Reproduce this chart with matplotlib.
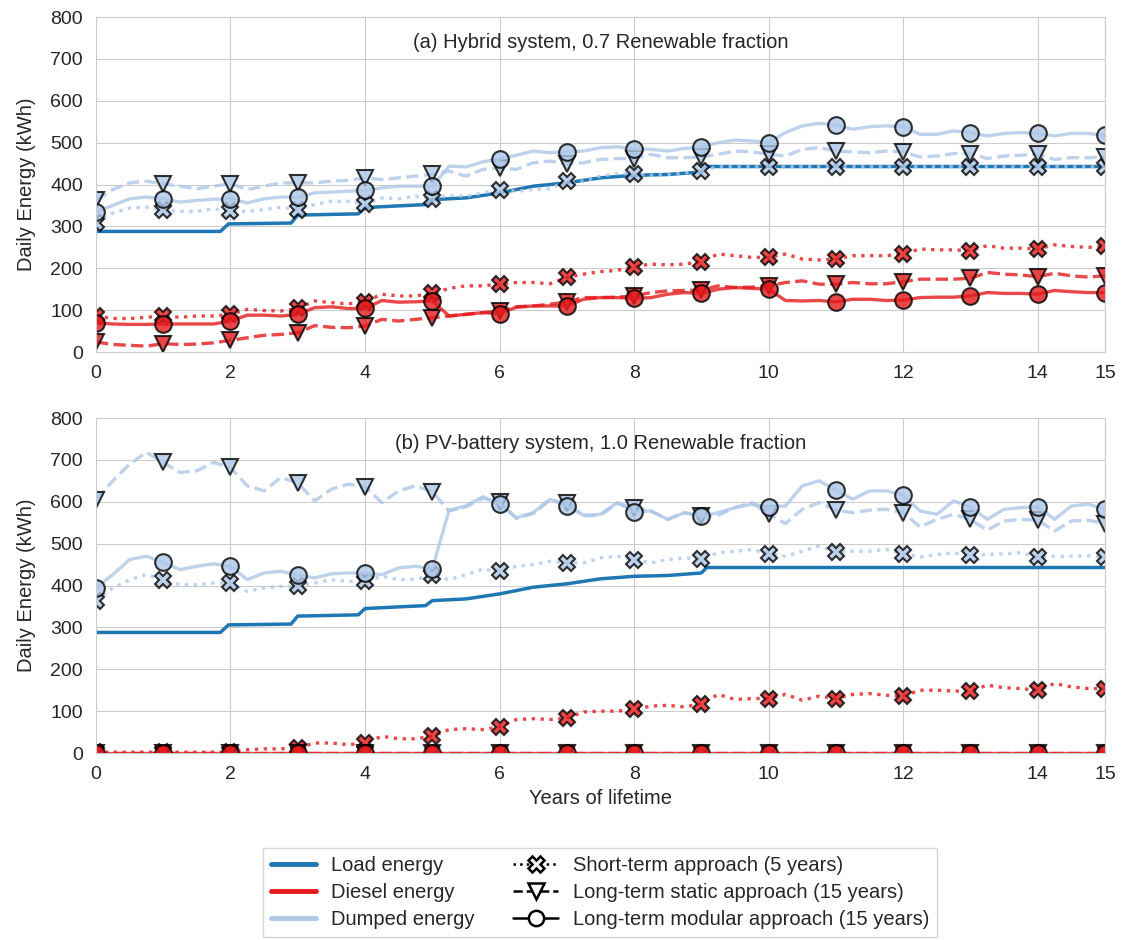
import numpy as np
import matplotlib.pyplot as plt
import seaborn as sns
from matplotlib.lines import Line2D

sns.set_style("whitegrid")
plt.rcParams["font.family"] = ["Liberation Sans", "DejaVu Sans"]
plt.rcParams["font.size"] = 14

# --- dati: energia giornaliera (kWh), letta ogni 0.25 anni ---
years = np.arange(0, 15.01, 0.25)

# carico (uguale nei due casi), con i gradini
load_years = [0, 1.85, 1.97, 2.9, 3.0, 3.9, 4.0, 4.5, 4.9, 5.0, 5.5, 6.0,
              6.5, 7.0, 7.5, 8.0, 8.5, 9.0, 9.08, 15]
load_kwh = [288, 288, 306, 308, 327, 330, 345, 349, 352, 364, 368, 380,
            396, 404, 416, 422, 424, 430, 443, 443]

# (a) sistema ibrido
dump_short_a = [308, 332, 344, 346, 338, 336, 336, 342, 336, 336, 340, 346,
                340, 352, 360, 360, 353, 368, 366, 372, 366, 374, 372, 380,
                388, 384, 388, 390, 408, 408, 420, 426, 426, 422, 424, 428,
                432, 443, 443, 443, 443, 443, 443, 443, 443, 443, 443, 443,
                443, 443, 443, 443, 443, 443, 443, 443, 443, 443, 443, 443, 443]
dump_static_a = [362, 388, 404, 408, 402, 396, 390, 396, 402, 388, 396, 404,
                 404, 404, 408, 410, 416, 412, 416, 420, 424, 432, 420, 436,
                 440, 436, 452, 456, 450, 452, 460, 462, 462, 472, 464, 464,
                 466, 472, 480, 478, 472, 468, 484, 488, 480, 478, 476, 480,
                 478, 466, 468, 474, 474, 462, 468, 470, 472, 460, 464, 464, 466]
dump_mod_a = [335, 350, 366, 370, 366, 358, 362, 365, 366, 356, 366, 370,
              370, 380, 382, 384, 386, 392, 396, 396, 396, 444, 442, 454,
              461, 470, 480, 476, 478, 480, 488, 490, 486, 484, 480, 486,
              490, 500, 506, 504, 500, 524, 540, 546, 542, 532, 538, 540,
              538, 520, 520, 528, 524, 516, 522, 524, 522, 516, 522, 522, 518]
diesel_short_a = [86, 80, 80, 83, 86, 83, 86, 86, 90, 102, 99, 98,
                  104, 122, 118, 115, 120, 138, 134, 134, 140, 152, 158, 158,
                  162, 166, 166, 163, 178, 186, 192, 195, 204, 210, 208, 210,
                  216, 234, 230, 226, 226, 234, 222, 220, 222, 230, 230, 230,
                  234, 246, 244, 244, 242, 254, 248, 248, 246, 256, 252, 250, 252]
diesel_static_a = [24, 18, 16, 14, 20, 18, 19, 22, 28, 34, 40, 42,
                   46, 63, 59, 58, 62, 78, 74, 78, 82, 86, 90, 94,
                   98, 108, 110, 114, 120, 130, 130, 131, 134, 142, 146, 147,
                   148, 158, 154, 155, 158, 166, 170, 162, 162, 166, 163, 163,
                   168, 174, 174, 174, 176, 190, 186, 184, 180, 188, 182, 179, 182]
diesel_mod_a = [70, 67, 66, 66, 67, 67, 67, 67, 74, 88, 88, 86,
                90, 106, 108, 104, 104, 123, 119, 120, 122, 86, 90, 94,
                92, 107, 110, 110, 110, 126, 130, 130, 128, 130, 138, 142,
                140, 150, 154, 152, 150, 123, 122, 123, 120, 126, 126, 123,
                124, 130, 131, 131, 134, 142, 140, 140, 138, 147, 144, 142, 142]

# (b) sistema PV-batteria
dump_short_b = [364, 394, 414, 426, 414, 402, 402, 406, 406, 386, 394, 398,
                398, 406, 414, 410, 410, 422, 414, 415, 424, 414, 426, 439,
                434, 446, 450, 458, 454, 454, 466, 470, 462, 454, 462, 466,
                464, 478, 482, 486, 476, 470, 482, 494, 480, 482, 482, 486,
                476, 468, 474, 478, 472, 474, 476, 478, 468, 470, 470, 471, 468]
dump_static_b = [605, 650, 690, 718, 694, 670, 674, 694, 682, 638, 626, 658,
                 645, 602, 630, 642, 636, 598, 626, 638, 624, 578, 588, 608,
                 600, 560, 572, 604, 598, 566, 568, 596, 586, 578, 558, 574,
                 566, 568, 586, 598, 570, 548, 582, 598, 580, 574, 580, 582,
                 574, 540, 558, 570, 558, 532, 554, 558, 556, 530, 554, 556, 548]
dump_mod_b = [394, 426, 462, 470, 455, 438, 446, 452, 446, 414, 430, 434,
              425, 418, 428, 430, 430, 426, 442, 446, 440, 580, 590, 612,
              594, 562, 574, 606, 590, 568, 570, 598, 576, 578, 558, 574,
              566, 574, 586, 594, 588, 590, 638, 650, 628, 606, 626, 626,
              616, 578, 570, 602, 588, 558, 582, 586, 588, 558, 590, 594, 583]
diesel_short_b = [2, 2, 2, 2, 2, 2, 2, 2, 3, 8, 10, 10,
                  12, 24, 24, 20, 24, 40, 34, 34, 40, 56, 58, 56,
                  62, 80, 82, 80, 84, 98, 100, 100, 104, 112, 114, 110,
                  118, 140, 128, 130, 130, 140, 126, 136, 130, 140, 142, 138,
                  136, 150, 150, 148, 148, 162, 156, 154, 150, 166, 158, 154, 154]
diesel_static_b = [0, 0, 0, 0, 0, 0, 0, 0, 0, 0, 0, 0, 0, 0, 0, 0,
                   0, 0, 0, 0, 0, 0, 0, 0, 0, 0, 0, 0, 0, 0, 0, 0,
                   0, 0, 0, 0, 0, 0, 0, 0, 0, 0, 0, 0, 0, 0, 0, 0,
                   0, 0, 0, 0, 0, 0, 0, 0, 0, 0, 0, 0, 0]
diesel_mod_b = [0, 0, 0, 0, 0, 0, 0, 0, 0, 0, 0, 0, 0, 0, 0, 0,
                0, 0, 0, 0, 0, 0, 0, 0, 0, 0, 0, 0, 0, 0, 0, 0,
                0, 0, 0, 0, 0, 0, 0, 0, 0, 0, 0, 0, 0, 0, 0, 0,
                0, 0, 0, 0, 0, 0, 0, 0, 0, 0, 0, 0, 0]

titles = ["(a) Hybrid system, 0.7 Renewable fraction",
          "(b) PV-battery system, 1.0 Renewable fraction"]
energy_labels = ["Load energy", "Diesel energy", "Dumped energy"]
approach_labels = ["Short-term approach (5 years)",
                   "Long-term static approach (15 years)",
                   "Long-term modular approach (15 years)"]

c_load = "#1f77b4"
c_diesel = "#e41a1c"
c_dump = "#aec7e8"
styles = [(":", "X"), ("--", "v"), ("-", "o")]


def draw_panel(ax, diesel, dumped, title):
    ax.plot(load_years, load_kwh, color=c_load, lw=2.5)
    for series, col in ((diesel, c_diesel), (dumped, c_dump)):
        for vals, (ls, mk) in zip(series, styles):
            ax.plot(years, vals, ls=ls, marker=mk, markevery=4, color=col,
                    lw=2.4, ms=12, mfc=col, mec="k", mew=1.5, alpha=0.8)
    ax.set_xlim(0, 15)
    ax.set_ylim(0, 800)
    ax.set_xticks([0, 2, 4, 6, 8, 10, 12, 14, 15])
    ax.set_yticks(range(0, 801, 100))
    ax.tick_params(labelsize=14, pad=6)
    ax.set_ylabel("Daily Energy (kWh)", fontsize=14.5, labelpad=10)
    ax.text(0.5, 0.925, title, transform=ax.transAxes, ha="center",
            va="center", fontsize=14.5, color="0.15")


fig = plt.figure(figsize=(11.21, 9.4), dpi=100)
ax1 = fig.add_axes([0.0856, 0.6255, 0.9001, 0.3564])
ax2 = fig.add_axes([0.0856, 0.1989, 0.9001, 0.3564])

draw_panel(ax1, [diesel_short_a, diesel_static_a, diesel_mod_a],
           [dump_short_a, dump_static_a, dump_mod_a], titles[0])
draw_panel(ax2, [diesel_short_b, diesel_static_b, diesel_mod_b],
           [dump_short_b, dump_static_b, dump_mod_b], titles[1])
ax2.set_xlabel("Years of lifetime", fontsize=14.5)

# --- legenda ---
handles = [Line2D([], [], color=c, lw=3.5) for c in (c_load, c_diesel, c_dump)]
handles += [Line2D([], [], color="k", ls=ls, marker=mk, ms=11, mfc="white",
                   mec="k", mew=1.8, lw=1.8) for ls, mk in styles]
fig.legend(handles, energy_labels + approach_labels, ncol=2,
           loc="upper center", bbox_to_anchor=(0.5355, 0.1085), fontsize=14.5,
           handlelength=2.2, handletextpad=0.75, columnspacing=1.95,
           labelspacing=0.4, borderpad=0.4,
           frameon=True, fancybox=False, edgecolor="0.8")

fig.savefig("out.png", dpi=100)
